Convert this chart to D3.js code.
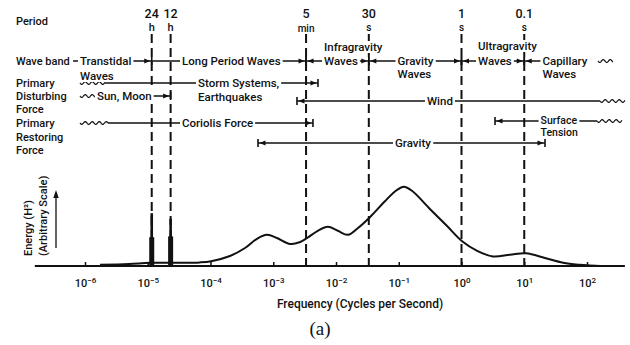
<!DOCTYPE html>
<html>
<head>
<meta charset="utf-8">
<script src="https://cdn.jsdelivr.net/npm/d3@7"></script>
<style>
  body { margin: 0; background: #fff; }
  svg { display: block; }
  text { font-family: Roboto, "Liberation Sans", sans-serif; font-weight: 500; fill: #111; }
</style>
</head>
<body>
<svg id="chart" width="630" height="345"></svg>
<script>
// Schematic energy spectrum of ocean surface waves (log10 frequency, arbitrary energy)
const spectrumLogFreq = [-5.76, -5.30, -4.96, -4.57, -4.17, -3.99, -3.69, -3.45, -3.26, -3.10, -2.94, -2.73,
  -2.57, -2.46, -2.29, -2.13, -1.97, -1.81, -1.65, -1.46, -1.22, -1.03, -0.92, -0.79, -0.50, -0.23,
  0.01, 0.25, 0.50, 0.77, 1.03, 1.33, 1.62, 1.89, 2.21, 2.60];
const spectrumEnergy = [1.5, 2.5, 4, 4, 4.5, 6, 12.5, 22.5, 34, 39, 35, 27.5,
  30, 35, 44, 49, 44, 39, 47.5, 61, 81, 95, 99, 94, 71, 50,
  31, 19, 12, 14, 16, 10, 4, 1.5, 0, 0];

// Tidal lines (diurnal and semidiurnal)
const tidePeriodHours = [24, 12];
const tidePeak = [66, 59];
const tideCore = [36, 37];

// Frequency axis decades
const decadeExponents = [-6, -5, -4, -3, -2, -1, 0, 1, 2];

// Period markers along the top
const periodSeconds = [86400, 43200, 300, 30, 1, 0.1];
const periodValues = ["24", "12", "5", "30", "1", "0.1"];
const periodUnits = ["h", "h", "min", "s", "s", "s"];

// Row labels on the left
const rowLabels = ["Period", "Wave band", "Primary", "Disturbing", "Force", "Primary", "Restoring", "Force"];

// Ranges drawn as arrows (log10 frequency bounds); caps: "bar" = |←  / →|
const lp = s => Math.log10(1 / s);
const waveBands = [
  { from: -6.19, to: lp(86400), startCap: null, endCap: "bar" },
  { from: lp(86400), to: lp(300), startCap: null, endCap: "bar" },
  { from: lp(300), to: lp(30), startCap: "bar", endCap: "bar" },
  { from: lp(30), to: lp(1), startCap: "bar", endCap: "bar" },
  { from: lp(1), to: lp(0.1), startCap: "bar", endCap: "bar" },
  { from: lp(0.1), to: 2.0, startCap: "bar", endCap: null }
];
const waveBandNames = [["Transtidal", "Waves"], ["Long Period Waves"], ["Infragravity", "Waves"],
  ["Gravity", "Waves"], ["Ultragravity", "Waves"], ["Capillary", "Waves"]];
const waveBandNameAt = [-6.08, -4.454, -2.19, -1.02, 0.263, 1.29];

const disturbing = [
  { from: -5.68, to: -2.287, startCap: null, endCap: "bar", wave: [-6.08, -5.68] },
  { from: -5.84, to: lp(43200), startCap: null, endCap: "bar", wave: [-6.08, -5.84] },
  { from: -2.622, to: 2.207, startCap: "bar", endCap: null, wave: [2.207, 2.606] }
];
const disturbingNames = [["Storm Systems,", "Earthquakes"], ["Sun, Moon"], ["Wind"]];
const disturbingNameAt = [-4.199, -5.809, -0.55];

const restoring = [
  { from: -5.633, to: -2.367, startCap: null, endCap: "bar", wave: [-6.08, -5.633] },
  { from: 0.534, to: 2.159, startCap: "bar", endCap: null, wave: [2.159, 2.558] },
  { from: -3.243, to: 1.331, startCap: "bar", endCap: "bar" }
];
const restoringNames = [["Coriolis Force"], ["Surface", "Tension"], ["Gravity"]];
const restoringNameAt = [-4.454, 1.26, -1.06];

// ---------------------------------------------------------------
const svg = d3.select("#chart");
const baseY = 266;
const x = d3.scaleLog().domain([1e-6, 1e2]).range([85, 587]);
const y = d3.scaleLinear().domain([0, 100]).range([baseY, 186]);
const xl = v => x(Math.pow(10, v));

// Period labels and dashed period lines
const pg = svg.append("g");
periodSeconds.forEach((s, i) => {
  const px = x(1 / s);
  pg.append("text").attr("x", px).attr("y", 18).attr("text-anchor", "middle")
    .attr("font-size", 12.5).text(periodValues[i]);
  pg.append("text").attr("x", px).attr("y", periodUnits[i] === "min" ? 32 : 31).attr("text-anchor", "middle")
    .attr("font-size", periodUnits[i] === "h" ? 11 : 10).text(periodUnits[i]);
  pg.append("line").attr("x1", px).attr("x2", px).attr("y1", 34).attr("y2", baseY)
    .attr("stroke", "#111").attr("stroke-width", 2).attr("stroke-dasharray", "9,5");
});

// Row labels
const rowY = [21, 61, 83, 96, 109, 123, 137, 150];
rowLabels.forEach((t, i) => {
  svg.append("text").attr("x", 16).attr("y", rowY[i] + 4).attr("font-size", 11).text(t);
});

// Range arrows
const ag = svg.append("g");
const lg = svg.append("g");
function arrowHead(xTip, yy, dir) {
  const len = 6, hw = 2.6;
  ag.append("path")
    .attr("d", `M${xTip},${yy} L${xTip - dir * len},${yy - hw} L${xTip - dir * len},${yy + hw} Z`)
    .attr("fill", "#111");
}
function capBar(xx, yy) {
  ag.append("line").attr("x1", xx).attr("x2", xx).attr("y1", yy - 4).attr("y2", yy + 4)
    .attr("stroke", "#111").attr("stroke-width", 1.6);
}
function wavy(a, b, yy) {
  const x0 = xl(a), x1 = xl(b);
  const pts = d3.range(0, 1.0001, 0.02).map(t => [x0 + (x1 - x0) * t, yy + 1.4 * Math.sin(t * (x1 - x0) / 7 * 2 * Math.PI)]);
  ag.append("path").attr("d", d3.line()(pts)).attr("fill", "none").attr("stroke", "#111").attr("stroke-width", 1.2);
}
// label with a white plate that interrupts the range line behind it
function plateLabel(px, py, size, str) {
  const g = lg.append("g");
  const rect = g.append("rect").attr("fill", "#fff");
  const t = g.append("text").attr("x", px).attr("y", py).attr("font-size", size).text(str);
  const b = t.node().getBBox();
  rect.attr("x", b.x - 2).attr("y", b.y + 1).attr("width", b.width + 4).attr("height", b.height - 2);
}
function drawRow(spans, names, nameAt, rows, lineYs, sizes) {
  spans.forEach((s, i) => {
    const yy = rows[i];
    const x0 = xl(s.from), x1 = xl(s.to);
    ag.append("line").attr("x1", x0).attr("x2", x1).attr("y1", yy).attr("y2", yy)
      .attr("stroke", "#111").attr("stroke-width", 1.3);
    if (s.startCap === "bar") { capBar(x0, yy); arrowHead(x0 + 1.5, yy, -1); }
    if (s.endCap === "bar") { capBar(x1, yy); arrowHead(x1 - 1.5, yy, 1); }
    if (s.wave) wavy(s.wave[0], s.wave[1], yy);
  });
  spans.forEach((s, i) => {
    names[i].forEach((t, j) => {
      plateLabel(xl(nameAt[i]), lineYs[i][j] + 4, sizes ? sizes[i] : 11.5, t);
    });
  });
}
drawRow(waveBands, waveBandNames, waveBandNameAt, [61, 61, 61, 61, 61, 61],
  [[61, 76], [61], [47, 61], [61, 74], [46, 61], [61, 74]]);
wavy(2.175, 2.414, 61);
drawRow(disturbing, disturbingNames, disturbingNameAt, [83, 96, 101],
  [[83, 97], [96], [101]]);
drawRow(restoring, restoringNames, restoringNameAt, [123, 121, 143],
  [[123], [120, 132], [143]], [11.5, 10.5, 11.5]);

// Frequency axis
svg.append("line").attr("x1", xl(-6.8)).attr("x2", xl(2.6)).attr("y1", baseY).attr("y2", baseY)
  .attr("stroke", "#111").attr("stroke-width", 2);
const axis = d3.axisBottom(x).tickValues(decadeExponents.map(e => Math.pow(10, e)))
  .tickSize(-4).tickPadding(13);
const ax = svg.append("g").attr("transform", `translate(0,${baseY})`).call(axis);
ax.select(".domain").remove();
ax.selectAll(".tick line").attr("stroke", "#111").attr("stroke-width", 1.5);
ax.selectAll(".tick text").each(function (d, i) {
  const t = d3.select(this);
  t.text(null).attr("font-size", 11).attr("fill", "#111").attr("font-family", null);
  t.append("tspan").text("10");
  t.append("tspan").attr("dy", -4).attr("font-size", 8)
    .text(String(decadeExponents[i]).replace("-", "\u2212"));
});
svg.append("text").attr("x", 360).attr("y", 308).attr("text-anchor", "middle")
  .attr("font-size", 12).text("Frequency (Cycles per Second)");

// Energy axis title and arrow
svg.append("text").attr("transform", "translate(32,256) rotate(-90)").attr("font-size", 11)
  .text("Energy (H\u00B2)");
svg.append("text").attr("transform", "translate(47,256) rotate(-90)").attr("font-size", 11)
  .text("(Arbitrary Scale)");
svg.append("line").attr("x1", 56).attr("x2", 56).attr("y1", 248).attr("y2", 197)
  .attr("stroke", "#111").attr("stroke-width", 1.3);
svg.append("path").attr("d", "M56,190 L53.3,198 L58.7,198 Z").attr("fill", "#111");

// Continuum spectrum
const spec = spectrumLogFreq.map((v, i) => ({ lf: v, e: spectrumEnergy[i] }));
svg.append("path").datum(spec)
  .attr("d", d3.line().x(d => xl(d.lf)).y(d => y(d.e)).curve(d3.curveCatmullRom.alpha(0.5)))
  .attr("fill", "none").attr("stroke", "#111").attr("stroke-width", 2);

// Tidal spikes
tidePeriodHours.forEach((h, i) => {
  const px = x(1 / (h * 3600));
  svg.append("line").attr("x1", px).attr("x2", px).attr("y1", baseY).attr("y2", y(tidePeak[i]))
    .attr("stroke", "#111").attr("stroke-width", 2.6);
  svg.append("rect").attr("x", px - 2.5).attr("width", 5).attr("y", y(tideCore[i]))
    .attr("height", baseY - y(tideCore[i])).attr("fill", "#111");
});

// Panel tag
svg.append("text").attr("x", 320).attr("y", 335).attr("text-anchor", "middle")
  .style("font-family", "'Liberation Serif', serif").style("font-weight", 400)
  .attr("font-size", 19).text("(a)");
</script>
</body>
</html>
